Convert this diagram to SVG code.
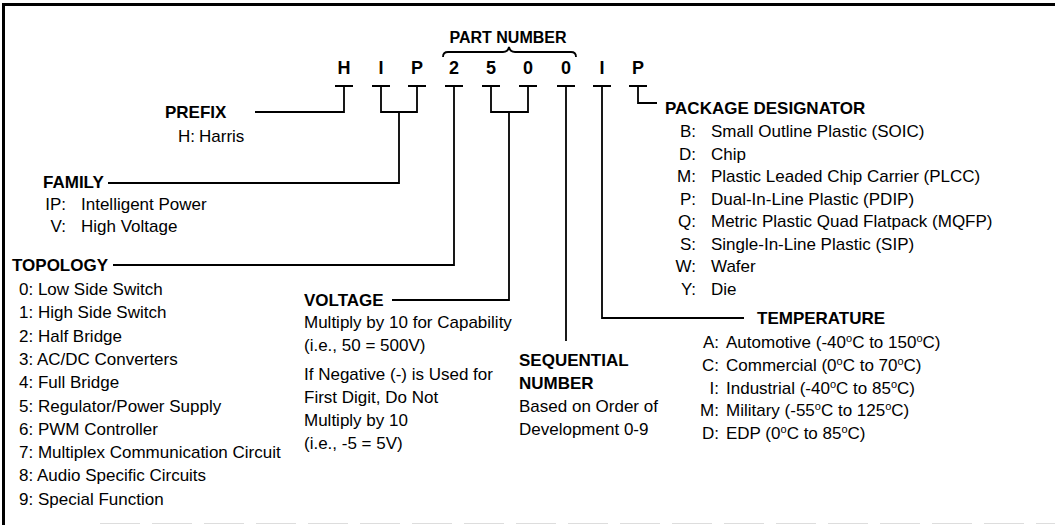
<svg xmlns="http://www.w3.org/2000/svg" width="1055" height="525" viewBox="0 0 1055 525">
<style>
text{font-family:"Liberation Sans",Arial,Helvetica,sans-serif;font-size:17px;fill:#000}
.b{font-weight:bold}
.big{font-weight:bold;font-size:18px;text-anchor:middle}
.e{text-anchor:end}
.sup{font-size:11px}
.ln{fill:none;stroke:#000;stroke-width:1.8}
</style>
<rect width="1055" height="525" fill="#fff"/>
<g id="frame" fill="none" stroke="#000">
<path d="M3.5,525 V4.5 H1055" stroke-width="3"/>
<path d="M100,523.5 H1055" stroke="#ddd" stroke-width="1" stroke-dasharray="40,12"/>
</g>
<g id="part-number">
<text class="b" x="508" y="43" style="font-size:16px" text-anchor="middle">PART NUMBER</text>
<path class="ln" d="M443,57 Q443,52 448,52 H503 Q508,52 509,47 Q510,52 515,52 H571 Q576,52 576,57"/>
<text class="big" x="344" y="74">H</text>
<text class="big" x="381" y="74">I</text>
<text class="big" x="417" y="74">P</text>
<text class="big" x="454" y="74">2</text>
<text class="big" x="491" y="74">5</text>
<text class="big" x="528" y="74">0</text>
<text class="big" x="566" y="74">0</text>
<text class="big" x="602" y="74">I</text>
<text class="big" x="638" y="74">P</text>
</g>
<g id="connectors" class="ln">
<path class="ln" d="M335,86 H353 M372,86 H390 M408,86 H426 M445,86 H463 M482,86 H500 M519,86 H537 M557,86 H575 M593,86 H611 M629,86 H647"/>
<path class="ln" d="M344,86 V112 H255"/>
<path class="ln" d="M381,86 V112 H417 V86 M399,112 V183 H108"/>
<path class="ln" d="M454,86 V265 H113"/>
<path class="ln" d="M491,86 V112 H528 V86 M509,112 V300 H392"/>
<path class="ln" d="M566,86 V341"/>
<path class="ln" d="M602,86 V318 H744"/>
<path class="ln" d="M638,86 V103 H657"/>
</g>
<g id="prefix">
<text class="b" x="165" y="118">PREFIX</text>
<text x="178" y="142">H:</text><text x="199" y="142">Harris</text>
</g>
<g id="family">
<text class="b" x="43" y="188">FAMILY</text>
<text class="e" x="66" y="210">IP:</text><text x="81" y="210">Intelligent Power</text>
<text class="e" x="66" y="232">V:</text><text x="81" y="232">High Voltage</text>
</g>
<g id="topology">
<text class="b" x="12" y="271">TOPOLOGY</text>
<text x="19" y="295">0: Low Side Switch</text>
<text x="19" y="318.3">1: High Side Switch</text>
<text x="19" y="341.6">2: Half Bridge</text>
<text x="19" y="364.9">3: AC/DC Converters</text>
<text x="19" y="388.2">4: Full Bridge</text>
<text x="19" y="411.5">5: Regulator/Power Supply</text>
<text x="19" y="434.8">6: PWM Controller</text>
<text x="19" y="458.1">7: Multiplex Communication Circuit</text>
<text x="19" y="481.4">8: Audio Specific Circuits</text>
<text x="19" y="504.7">9: Special Function</text>
</g>
<g id="voltage">
<text class="b" x="304" y="306">VOLTAGE</text>
<text x="304" y="328">Multiply by 10 for Capability</text>
<text x="304" y="351">(i.e., 50 = 500V)</text>
<text x="304" y="380">If Negative (-) is Used for</text>
<text x="304" y="403">First Digit, Do Not</text>
<text x="304" y="426">Multiply by 10</text>
<text x="304" y="449">(i.e., -5 = 5V)</text>
</g>
<g id="sequential">
<text class="b" x="519" y="366">SEQUENTIAL</text>
<text class="b" x="519" y="389">NUMBER</text>
<text x="519" y="412">Based on Order of</text>
<text x="519" y="435">Development 0-9</text>
</g>
<g id="temperature">
<text class="b" x="757" y="324">TEMPERATURE</text>
<text class="e" x="719" y="348">A:</text><text x="726" y="348">Automotive (-40<tspan class="sup" dy="-6">o</tspan><tspan dy="6">C to 150</tspan><tspan class="sup" dy="-6">o</tspan><tspan dy="6">C)</tspan></text>
<text class="e" x="719" y="371">C:</text><text x="726" y="371">Commercial (0<tspan class="sup" dy="-6">o</tspan><tspan dy="6">C to 70</tspan><tspan class="sup" dy="-6">o</tspan><tspan dy="6">C)</tspan></text>
<text class="e" x="719" y="394">I:</text><text x="726" y="394">Industrial (-40<tspan class="sup" dy="-6">o</tspan><tspan dy="6">C to 85</tspan><tspan class="sup" dy="-6">o</tspan><tspan dy="6">C)</tspan></text>
<text class="e" x="719" y="416">M:</text><text x="726" y="416">Military (-55<tspan class="sup" dy="-6">o</tspan><tspan dy="6">C to 125</tspan><tspan class="sup" dy="-6">o</tspan><tspan dy="6">C)</tspan></text>
<text class="e" x="719" y="439">D:</text><text x="726" y="439">EDP (0<tspan class="sup" dy="-6">o</tspan><tspan dy="6">C to 85</tspan><tspan class="sup" dy="-6">o</tspan><tspan dy="6">C)</tspan></text>
</g>
<g id="package">
<text class="b" x="665" y="114">PACKAGE DESIGNATOR</text>
<text class="e" x="696" y="137">B:</text><text x="711" y="137">Small Outline Plastic (SOIC)</text>
<text class="e" x="696" y="159.5">D:</text><text x="711" y="159.5">Chip</text>
<text class="e" x="696" y="182">M:</text><text x="711" y="182">Plastic Leaded Chip Carrier (PLCC)</text>
<text class="e" x="696" y="204.5">P:</text><text x="711" y="204.5">Dual-In-Line Plastic (PDIP)</text>
<text class="e" x="696" y="227">Q:</text><text x="711" y="227">Metric Plastic Quad Flatpack (MQFP)</text>
<text class="e" x="696" y="249.5">S:</text><text x="711" y="249.5">Single-In-Line Plastic (SIP)</text>
<text class="e" x="696" y="272">W:</text><text x="711" y="272">Wafer</text>
<text class="e" x="696" y="294.5">Y:</text><text x="711" y="294.5">Die</text>
</g>
</svg>
